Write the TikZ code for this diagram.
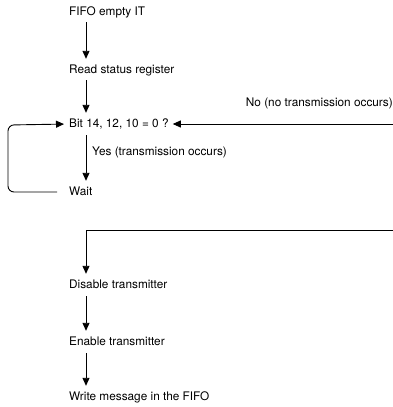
\documentclass[tikz,border=0pt]{standalone}
\usepackage{fontspec}
\setmainfont{TeX Gyre Heros}
\usepackage{tikz}
\usetikzlibrary{arrows.meta}

\begin{document}
\begin{tikzpicture}[
    x=1pt, y=-1pt,
    stepbox/.style={anchor=west, inner sep=0pt, text height=8pt, text depth=2pt,
                    font=\fontsize{11.8}{13}\selectfont},
    note/.style={inner sep=0pt, font=\fontsize{11.8}{13}\selectfont},
    arrow/.style={-{Triangle[length=8pt, width=7pt]}, line width=0.9pt}
]
    \useasboundingbox (0,0) rectangle (393,407);

    % steps of the routine
    \node[stepbox] (fifo) at (69,12) {FIFO empty IT};
    \node[stepbox] (status) at (69,70) {Read status register};
    \node[stepbox] (bits) at (69,124) {Bit 14, 12, 10 = 0 ?};
    \node[stepbox] (wait) at (69,192) {Wait};
    \node[stepbox] (disable) at (69,285) {Disable transmitter};
    \node[stepbox] (enable) at (69,342) {Enable transmitter};
    \node[stepbox] (write) at (69,397) {Write message in the FIFO};

    % branch labels
    \node[note, anchor=east] (nolbl) at (393,103) {No (no transmission occurs)};
    \node[note, anchor=west] (yeslbl) at (92,152) {Yes (transmission occurs)};

    % free ends coming from the right
    \coordinate (noin) at (393,124);
    \coordinate (txin) at (393,230);
    \coordinate (txcorner) at (86,230);

    \draw[arrow, shorten <=5pt, shorten >=6pt] ([xshift=17pt]fifo.south west) -- ([xshift=17pt]status.north west);
    \draw[arrow, shorten <=5pt, shorten >=6pt] ([xshift=17pt]status.south west) -- ([xshift=17pt]bits.north west);
    \draw[arrow, shorten <=6pt, shorten >=6pt] ([xshift=17pt]bits.south west) -- ([xshift=17pt]wait.north west);
    \draw[arrow, shorten >=4pt] (noin) -- (bits.east);

    % loop back from wait
    \draw[arrow, rounded corners=6pt, shorten <=12pt, shorten >=5pt]
        (wait.west) -- (8,192) -- (8,125) -- (bits.west);

    \draw[arrow, shorten >=6pt] (txin) -- (txcorner) -- ([xshift=17pt]disable.north west);
    \draw[arrow, shorten <=6pt, shorten >=6pt] ([xshift=17pt]disable.south west) -- ([xshift=17pt]enable.north west);
    \draw[arrow, shorten <=6pt, shorten >=6pt] ([xshift=17pt]enable.south west) -- ([xshift=17pt]write.north west);
\end{tikzpicture}
\end{document}
